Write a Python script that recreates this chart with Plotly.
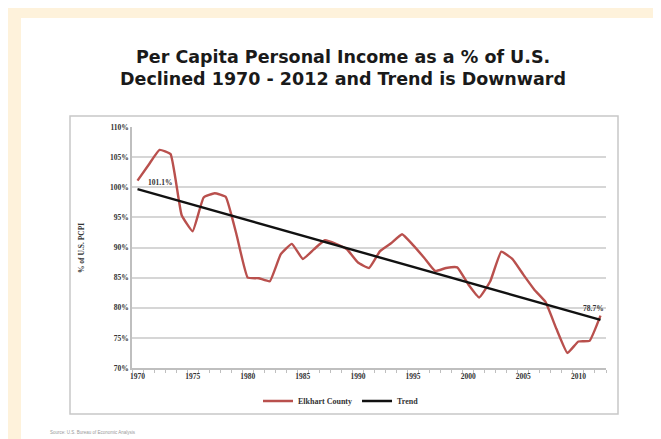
import plotly.graph_objects as go

years = list(range(1970, 2013))
elkhart = [101.1, 103.7, 106.2, 105.5, 95.4, 92.7, 98.3, 99.0, 98.4, 92.0,
           85.0, 84.9, 84.4, 88.9, 90.6, 88.1, 89.7, 91.2, 90.6, 89.7,
           87.5, 86.6, 89.4, 90.7, 92.2, 90.4, 88.3, 86.1, 86.6, 86.7,
           83.9, 81.7, 84.4, 89.3, 88.1, 85.5, 83.0, 81.0, 76.5, 72.5,
           74.4, 74.5, 78.7]
trend_years = [1970, 2012]
trend_values = [99.7, 78.0]

y_ticks = [70, 75, 80, 85, 90, 95, 100, 105, 110]
y_tick_labels = ["70%", "75%", "80%", "85%", "90%", "95%", "100%", "105%", "110%"]
x_ticks = [1970, 1975, 1980, 1985, 1990, 1995, 2000, 2005, 2010]
x_tick_labels = ["1970", "1975", "1980", "1985", "1990", "1995", "2000", "2005", "2010"]

title_lines = ["Per Capita Personal Income as a % of U.S.",
               "Declined 1970 - 2012 and Trend is Downward"]

W, H = 661, 439
L, R, T, B = 124, 63, 119, 79
pw = W - L - R
ph = H - T - B

def px_x(p):
    return (p - L) / pw

def px_y(p):
    return (H - B - p) / ph

fig = go.Figure()
fig.add_trace(go.Scatter(
    x=years, y=elkhart, mode="lines", name="<b>Elkhart County</b>",
    line=dict(color="#B9504D", width=2.4, shape="spline", smoothing=0.35),
))
fig.add_trace(go.Scatter(
    x=trend_years, y=trend_values, mode="lines", name="<b>Trend</b>",
    line=dict(color="#111111", width=2.4),
))

tick_font = dict(family="Liberation Serif", size=7.5, color="#333333")

fig.update_layout(
    width=W, height=H,
    paper_bgcolor="#FEF2DB", plot_bgcolor="#FFFFFF",
    margin=dict(l=L, r=R, t=T, b=B),
    showlegend=True,
    legend=dict(orientation="h", x=px_x(333), xanchor="center",
                y=px_y(393), yanchor="middle",
                font=dict(family="Liberation Serif", size=8, color="#333333"),
                bgcolor="rgba(0,0,0,0)", itemwidth=30),
    xaxis=dict(range=[1969.5, 2012.5], tickvals=x_ticks,
               ticktext=["<b>%s</b>" % t for t in x_tick_labels],
               tickfont=tick_font, showgrid=False, zeroline=False,
               showline=True, linecolor="#BFBFBF", linewidth=1.5,
               ticks="", ticklen=0,
               minor=dict(ticks="outside", tick0=1969.5, dtick=1,
                          ticklen=3, tickcolor="#BFBFBF", showgrid=False)),
    yaxis=dict(range=[70, 110], tickvals=y_ticks,
               ticktext=["<b>%s</b>" % t for t in y_tick_labels],
               tickfont=tick_font, showgrid=True, gridcolor="#D6D6D6",
               gridwidth=1.6, zeroline=False, showline=True,
               linecolor="#BFBFBF", linewidth=1.5, ticks="", ticklen=0),
)

shapes = [
    dict(type="rect", xref="paper", yref="paper", layer="below",
         x0=px_x(13), x1=px_x(650), y0=px_y(439), y1=px_y(10),
         fillcolor="#FFFFFF", line=dict(width=0)),
    dict(type="rect", xref="paper", yref="paper", layer="below",
         x0=px_x(62), x1=px_x(610), y0=px_y(406), y1=px_y(108),
         fillcolor="rgba(0,0,0,0)", line=dict(color="#C8C8C8", width=1.5)),
]
fig.update_layout(shapes=shapes)

title_font = dict(family="DejaVu Sans", size=17.5, color="#1a1a1a")
ann = []
ann.append(dict(xref="paper", yref="paper", x=px_x(335), y=px_y(49),
                text="<b>%s</b>" % title_lines[0], showarrow=False,
                font=title_font, xanchor="center", yanchor="middle"))
ann.append(dict(xref="paper", yref="paper", x=px_x(335), y=px_y(71),
                text="<b>%s</b>" % title_lines[1], showarrow=False,
                font=title_font, xanchor="center", yanchor="middle"))
ann.append(dict(xref="paper", yref="paper", x=px_x(73), y=px_y(240),
                text="<b>% of U.S. PCPI</b>", textangle=-90, showarrow=False,
                font=dict(family="Liberation Serif", size=7.5, color="#333333"),
                xanchor="center", yanchor="middle"))
ann.append(dict(xref="x", yref="y", x=years[0], y=elkhart[0],
                text="<b>101.1%</b>", showarrow=False, xshift=22, yshift=-2,
                font=dict(family="Liberation Serif", size=7.5, color="#333333")))
ann.append(dict(xref="x", yref="y", x=years[-1], y=elkhart[-1],
                text="<b>78.7%</b>", showarrow=False, xshift=-7, yshift=7,
                font=dict(family="Liberation Serif", size=7.5, color="#333333")))
ann.append(dict(xref="paper", yref="paper", x=px_x(40), y=px_y(424),
                text="Source: U.S. Bureau of Economic Analysis", showarrow=False,
                xanchor="left", yanchor="middle",
                font=dict(family="Liberation Sans", size=4.5, color="#999999")))
fig.update_layout(annotations=ann)

fig.write_html("out.html")
